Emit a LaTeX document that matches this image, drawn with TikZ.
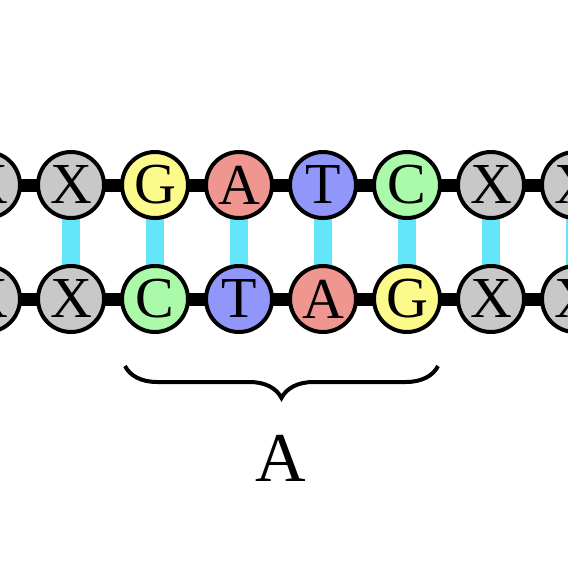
\documentclass[tikz,border=0pt]{standalone}
\usepackage{fontspec}
\setmainfont{Liberation Serif}
\usetikzlibrary{decorations.pathreplacing}
\definecolor{cx}{RGB}{200,200,200}
\definecolor{cg}{RGB}{253,250,140}
\definecolor{ca}{RGB}{240,150,145}
\definecolor{ct}{RGB}{145,150,250}
\definecolor{cc}{RGB}{170,250,170}
\definecolor{cbond}{RGB}{100,230,250}
\begin{document}
\begin{tikzpicture}[x=1pt,y=-1pt,
  base/.style={circle,draw=black,line width=4pt,minimum size=66pt,inner sep=0pt,
    font=\fontsize{58}{62}\selectfont},
  backbone/.style={line width=13pt,black},
  bond/.style={line width=18pt,cbond},
  bracestyle/.style={decorate,decoration={brace,mirror,amplitude=32pt,aspect=0.5},line width=4pt}]
\useasboundingbox (0,0) rectangle (568,568);
\begin{scope}
\clip (0,0) rectangle (568,568);
\foreach \i/\x in {0/-13,1/71,2/155,3/239,4/323,5/407,6/491,7/575}{
  \coordinate (tp\i) at (\x,185);
  \coordinate (bp\i) at (\x,299);
}
\coordinate (tl) at (-60,185);
\coordinate (tr) at (630,185);
\coordinate (bl) at (-60,299);
\coordinate (br) at (630,299);
\draw[backbone] (tl) -- (tr);
\draw[backbone] (bl) -- (br);
\foreach \i in {0,...,7}{\draw[bond] (tp\i) -- (bp\i);}
\foreach \i/\tl/\tc/\bl/\bc in {0/X/cx/X/cx,1/X/cx/X/cx,2/G/cg/C/cc,3/A/ca/T/ct,4/T/ct/A/ca,5/C/cc/G/cg,6/X/cx/X/cx,7/X/cx/X/cx}{
  \node[base,fill=\tc] (t\i) at (tp\i) {\tl};
  \node[base,fill=\bc] (b\i) at (bp\i) {\bl};
}
\end{scope}
\coordinate (bs) at (125,366);
\coordinate (be) at (438,366);
\draw[bracestyle] (bs) -- (be);
\node[font=\fontsize{70}{74}\selectfont] (lab) at (281,458) {A};
\end{tikzpicture}
\end{document}
